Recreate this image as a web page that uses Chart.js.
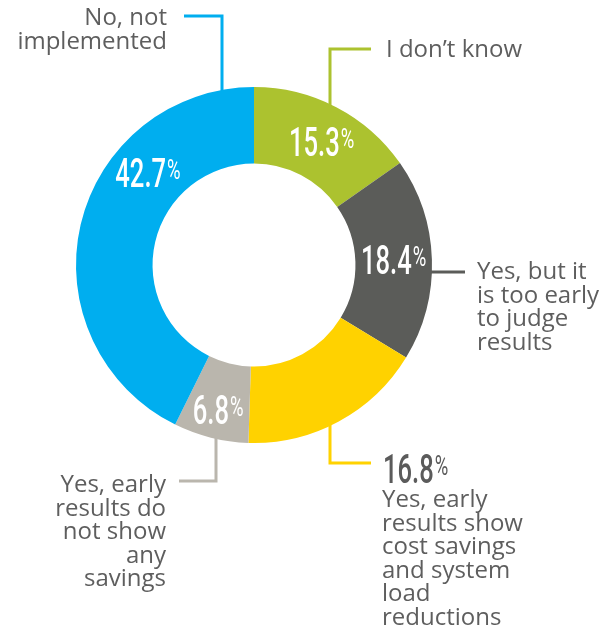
<!DOCTYPE html>
<html>
<head>
<meta charset="utf-8">
<script src="https://cdn.jsdelivr.net/npm/chart.js@4.4.1/dist/chart.umd.min.js"></script>
<style>
  html, body { margin: 0; background: #fff; }
  #wrap { width: 606px; height: 632px; position: relative; }
</style>
</head>
<body>
<div id="wrap"><canvas id="donut" width="606" height="632"></canvas></div>
<script>
// ---------- data ----------
const categories = [
  "I don’t know",
  "Yes, but it is too early to judge results",
  "Yes, early results show cost savings and system load reductions",
  "Yes, early results do not show any savings",
  "No, not implemented"
];
const shares = [15.3, 18.4, 16.8, 6.8, 42.7];
const colours = ["#acc22f", "#5b5c59", "#ffd200", "#bab6ad", "#00aeef"];

// wrapped lines for the callout texts
const categoryLines = [
  ["I don’t know"],
  ["Yes, but it", "is too early", "to judge", "results"],
  ["Yes, early", "results show", "cost savings", "and system", "load", "reductions"],
  ["Yes, early", "results do", "not show", "any", "savings"],
  ["No, not", "implemented"]
];

const TEXT_GREY = "#5e5e5e";
const LINE_H = 23.6;

// draws "12.3%" with a condensed figure and a small raised percent sign
function drawPct(ctx, value, x, y, color, align) {
  const numTxt = value.toFixed(1);
  const sx = 0.64, px = 0.66;
  ctx.save();
  ctx.fillStyle = color;
  ctx.textBaseline = "alphabetic";
  ctx.font = "500 40px Roboto";
  const wNum = ctx.measureText(numTxt).width * sx;
  ctx.font = "400 28px Roboto";
  const wPct = ctx.measureText("%").width * px;
  const total = wNum + wPct + 1;
  const left = align === "left" ? x : x - total / 2;
  ctx.translate(left, y);
  ctx.scale(sx, 1);
  ctx.font = "500 40px Roboto";
  ctx.fillText(numTxt, 0, 0);
  ctx.restore();
  ctx.save();
  ctx.fillStyle = color;
  ctx.translate(left + wNum + 1, y - 8);
  ctx.scale(px, 1);
  ctx.font = "400 28px Roboto";
  ctx.fillText("%", 0, 0);
  ctx.restore();
}

function drawLines(ctx, lines, x, firstBaseline, align) {
  ctx.save();
  ctx.fillStyle = TEXT_GREY;
  ctx.font = "400 24px 'Open Sans'";
  ctx.textAlign = align;
  ctx.textBaseline = "alphabetic";
  lines.forEach((t, k) => ctx.fillText(t, x, firstBaseline + k * LINE_H));
  ctx.restore();
}

function leader(ctx, pts, color) {
  ctx.save();
  ctx.strokeStyle = color;
  ctx.lineWidth = 3;
  ctx.lineJoin = "miter";
  ctx.beginPath();
  pts.forEach((p, k) => k ? ctx.lineTo(p[0], p[1]) : ctx.moveTo(p[0], p[1]));
  ctx.stroke();
  ctx.restore();
}

// ---------- labels + callouts ----------
const calloutPlugin = {
  id: "callouts",
  afterDatasetsDraw(chart) {
    const ctx = chart.ctx;
    const arcs = chart.getDatasetMeta(0).data;
    const { x: cx, y: cy, outerRadius: R, innerRadius: r } = arcs[0].getProps(["x", "y", "outerRadius", "innerRadius"], true);
    const midR = (R + r) / 2;
    const edgeY = dx => Math.sqrt(R * R - dx * dx);

    // value labels inside the ring
    const shift = [[3, 15], [0, 13], null, [-2, 23], [30, -46]];
    arcs.forEach((arc, i) => {
      if (!shift[i]) return;
      const p = arc.getProps(["startAngle", "endAngle"], true);
      const a = (p.startAngle + p.endAngle) / 2;
      const x = cx + Math.cos(a) * midR + shift[i][0];
      const y = cy + Math.sin(a) * midR + shift[i][1];
      drawPct(ctx, shares[i], x, y, "#ffffff", "center");
    });

    // I don't know
    leader(ctx, [[cx + 76, cy - edgeY(76) + 4], [cx + 76, 49], [cx + 117, 49]], colours[0]);
    drawLines(ctx, categoryLines[0], 386, 57, "left");

    // too early to judge
    leader(ctx, [[cx + R - 2, 272], [cx + 211, 272]], colours[1]);
    drawLines(ctx, categoryLines[1], 477, 279, "left");

    // cost savings
    leader(ctx, [[cx + 76, cy + edgeY(76) - 4], [cx + 76, 463], [cx + 117, 463]], colours[2]);
    drawPct(ctx, shares[2], 383, 483, "#5b5b5b", "left");
    drawLines(ctx, categoryLines[2], 382, 507, "left");

    // no savings
    leader(ctx, [[cx - 38, cy + edgeY(38) - 4], [cx - 38, 481], [cx - 75, 481]], colours[3]);
    drawLines(ctx, categoryLines[3], 166, 492, "right");

    // not implemented
    leader(ctx, [[cx - 32, cy - edgeY(32) + 4], [cx - 32, 16], [cx - 70, 16]], colours[4]);
    drawLines(ctx, categoryLines[4], 167, 25, "right");
  }
};

new Chart(document.getElementById("donut"), {
  type: "doughnut",
  data: {
    labels: categories,
    datasets: [{
      data: shares,
      backgroundColor: colours,
      borderWidth: 0
    }]
  },
  options: {
    responsive: false,
    animation: false,
    events: [],
    cutout: "57%",
    layout: { padding: { left: 76, top: 87, right: 174, bottom: 189 } },
    plugins: { legend: { display: false }, tooltip: { enabled: false } }
  },
  plugins: [calloutPlugin]
});
</script>
</body>
</html>
